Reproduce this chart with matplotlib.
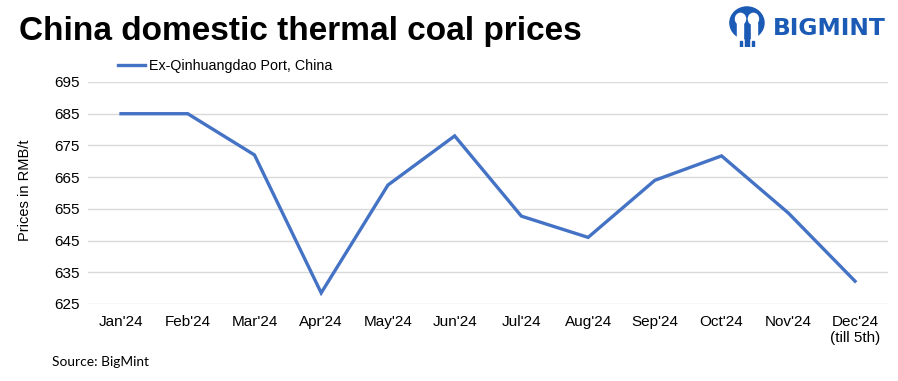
import matplotlib.pyplot as plt
from matplotlib.patches import Circle, Ellipse, Rectangle

months = ["Jan'24", "Feb'24", "Mar'24", "Apr'24", "May'24", "Jun'24",
          "Jul'24", "Aug'24", "Sep'24", "Oct'24", "Nov'24", "Dec'24\n(till 5th)"]
prices = [685, 685, 672, 628.5, 662.5, 678, 652.7, 646, 664, 671.7, 653.7, 632.2]
yticks = [625, 635, 645, 655, 665, 675, 685, 695]
series_name = "Ex-Qinhuangdao Port, China"

plt.rcParams['font.family'] = ['Liberation Sans', 'DejaVu Sans']

fig = plt.figure(figsize=(8.98, 3.81), dpi=100)
ax = fig.add_axes([0.0976, 0.2021, 0.8917, 0.5827])

ax.plot(range(len(months)), prices, color='#4472C4', lw=2.4,
        solid_joinstyle='miter', label=series_name)

ax.set_xlim(-0.5, len(months) - 0.5)
ax.set_ylim(625, 695)
ax.set_yticks(yticks)
ax.set_xticks(range(len(months)))
ax.set_xticklabels(months, fontsize=11)
ax.tick_params(axis='y', labelsize=11, length=0, pad=6)
ax.tick_params(axis='x', length=0, pad=8)
for s in ax.spines.values():
    s.set_visible(False)
ax.grid(axis='y', color='#d9d9d9', lw=1)
ax.set_axisbelow(True)
fig.text(0.028, 0.5, 'Prices in RMB/t', fontsize=10.5, rotation=90,
         va='center', ha='center')

leg = ax.legend(loc='lower left', bbox_to_anchor=(0.027, 1.0), frameon=False,
                fontsize=10.3, handlelength=1.9, handletextpad=0.3,
                borderaxespad=0.2)

fig.text(0.021, 0.918, 'China domestic thermal coal prices', fontsize=24,
         fontweight='bold', va='center', ha='left')
fig.text(0.058, 0.05, 'Source: BigMint', fontsize=9.9, family='Lato',
         va='center', ha='left')

# logo
blue = '#1b5bb5'
fig.text(0.861, 0.925, 'BIGMINT', fontsize=16.8, fontweight='bold', color=blue,
         va='center', ha='left', family='DejaVu Sans')
lax = fig.add_axes([0.8118, 0.877, 0.04, 0.11])
lax.set_xlim(0, 1)
lax.set_ylim(0, 1.05)
lax.set_aspect('auto')
lax.axis('off')
lax.add_patch(Ellipse((0.5, 0.6), 0.95, 0.8, color=blue))
lax.add_patch(Circle((0.32, 0.7), 0.14, color='white'))
lax.add_patch(Circle((0.68, 0.7), 0.14, color='white'))
lax.add_patch(Rectangle((0.22, 0.2), 0.16, 0.4, color='white'))
lax.add_patch(Rectangle((0.62, 0.2), 0.16, 0.4, color='white'))
lax.add_patch(Rectangle((0.44, 0.0), 0.12, 0.35, color=blue))
lax.add_patch(Rectangle((0.3, 0.0), 0.06, 0.15, color=blue))
lax.add_patch(Rectangle((0.64, 0.0), 0.06, 0.15, color=blue))

fig.savefig('out.png', dpi=100)
